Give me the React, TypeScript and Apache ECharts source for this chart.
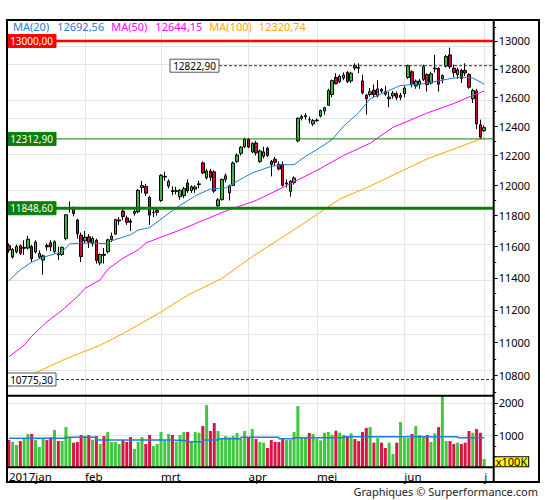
import React, { useEffect, useRef } from "react";
import * as echarts from "echarts";

// ---------- DATA ----------
const janDays = [4, 5, 6, 9, 10, 11, 12, 13, 16, 17, 18, 19, 20, 23, 24, 25, 26, 27, 30, 31];
const febDays = [1, 2, 3, 6, 7, 8, 9, 10, 13, 14, 15, 16, 17, 20, 21, 22, 23, 24, 27, 28];
const marDays = [1, 2, 3, 6, 7, 8, 9, 10, 13, 14, 15, 16, 17, 20, 21, 22, 23, 24, 27, 28, 29, 30, 31];
const aprDays = [3, 4, 5, 6, 7, 10, 11, 12, 13, 18, 19, 20, 21, 24, 25, 26, 27, 28];
const mayDays = [1, 2, 3, 4, 5, 8, 9, 10, 11, 12, 15, 16, 17, 18, 19, 22, 23, 24, 25, 26, 29, 30, 31];
const junDays = [1, 2, 6, 7, 8, 9, 12, 13, 14, 15, 16, 19, 20, 21, 22, 23, 26, 27, 28, 29, 30];
const julDays = [3];
const monthLabels = ["2017jan", "feb", "mrt", "apr", "mei", "jun", "j"];

const openP = [
  11605, 11532, 11567, 11604, 11588, 11590, 11600, 11565, 11532, 11513, 11606, 11624, 11567, 11552, 11549, 11651, 11845, 11840, 11772, 11673,
  11637, 11662, 11620, 11640, 11495, 11550, 11567, 11645, 11680, 11765, 11830, 11785, 11765, 11815, 11825, 11985, 11992, 11920, 11820, 11822,
  11900, 12055, 11995, 11965, 11960, 11925, 11932, 12015, 11965, 11975, 12005, 12150, 12050, 12095, 12090, 11865, 11905, 12040, 11950, 12000, 12160, 12215, 12260,
  12310, 12225, 12285, 12160, 12195, 12250, 12160, 12175, 12140, 12140, 12010, 11960, 12018, 12300, 12455, 12465, 12445, 12415,
  12438, 12470, 12505, 12545, 12620, 12740, 12710, 12735, 12775, 12715, 12825, 12810, 12715, 12615, 12620, 12650, 12610, 12655, 12640, 12590, 12610, 12625, 12600,
  12625, 12740, 12780, 12680, 12690, 12725, 12760, 12700, 12800, 12805, 12730, 12820, 12900, 12805, 12760, 12790, 12790, 12760, 12590, 12645, 12410,
  12370,
];
const highP = [
  11620, 11590, 11612, 11612, 11640, 11668, 11610, 11640, 11575, 11548, 11620, 11640, 11640, 11600, 11600, 11810, 11893, 11860, 11780, 11690,
  11700, 11680, 11665, 11650, 11555, 11590, 11650, 11690, 11780, 11790, 11845, 11800, 11780, 11840, 11975, 12030, 12010, 11930, 11850, 11850,
  12075, 12090, 12040, 11995, 11990, 11975, 11990, 12040, 12000, 12000, 12030, 12160, 12110, 12110, 12100, 11915, 12045, 12080, 12005, 12160, 12215, 12265, 12320,
  12320, 12290, 12300, 12240, 12260, 12260, 12170, 12190, 12160, 12160, 12040, 12035, 12060, 12460, 12480, 12490, 12465, 12450,
  12452, 12515, 12535, 12660, 12725, 12770, 12760, 12775, 12785, 12780, 12840, 12840, 12760, 12625, 12665, 12690, 12720, 12665, 12680, 12640, 12645, 12640, 12630,
  12680, 12830, 12790, 12725, 12730, 12830, 12770, 12780, 12900, 12810, 12760, 12900, 12952, 12830, 12810, 12800, 12840, 12770, 12660, 12660, 12445,
  12405,
];
const lowP = [
  11560, 11522, 11555, 11545, 11545, 11580, 11500, 11555, 11520, 11420, 11575, 11570, 11555, 11513, 11540, 11640, 11820, 11795, 11650, 11500,
  11620, 11590, 11600, 11490, 11480, 11490, 11555, 11630, 11675, 11740, 11770, 11740, 11700, 11800, 11815, 11950, 11930, 11740, 11790, 11800,
  11890, 12030, 11980, 11935, 11940, 11905, 11915, 11950, 11950, 11950, 11980, 12075, 12040, 12030, 11950, 11855, 11900, 12020, 11900, 11995, 12150, 12200, 12250,
  12250, 12215, 12200, 12150, 12180, 12190, 12060, 12130, 12100, 11990, 11985, 11925, 12005, 12290, 12440, 12445, 12420, 12400,
  12430, 12460, 12480, 12540, 12600, 12690, 12700, 12720, 12700, 12700, 12790, 12770, 12620, 12480, 12605, 12600, 12600, 12630, 12610, 12530, 12590, 12580, 12580,
  12600, 12730, 12670, 12660, 12660, 12715, 12640, 12690, 12775, 12640, 12700, 12810, 12800, 12740, 12730, 12700, 12750, 12660, 12560, 12380, 12313,
  12360,
];
const closeP = [
  11577, 11580, 11600, 11556, 11594, 11647, 11521, 11629, 11555, 11540, 11598, 11597, 11630, 11546, 11595, 11806, 11849, 11814, 11682, 11535,
  11660, 11628, 11651, 11510, 11549, 11543, 11643, 11667, 11774, 11772, 11794, 11757, 11757, 11828, 11967, 11998, 11948, 11804, 11823, 11834,
  12067, 12060, 12027, 11958, 11966, 11967, 11978, 11963, 11990, 11989, 12010, 12083, 12095, 12053, 11962, 11904, 12040, 12064, 11996, 12149, 12203, 12256, 12313,
  12257, 12282, 12218, 12231, 12225, 12200, 12139, 12155, 12109, 12000, 12016, 12027, 12049, 12455, 12467, 12473, 12444, 12438,
  12442, 12508, 12528, 12648, 12717, 12695, 12749, 12757, 12711, 12770, 12807, 12805, 12632, 12590, 12639, 12619, 12659, 12643, 12622, 12602, 12629, 12599, 12615,
  12665, 12823, 12690, 12714, 12715, 12816, 12690, 12765, 12806, 12692, 12753, 12889, 12815, 12774, 12794, 12733, 12771, 12671, 12647, 12416, 12325,
  12390,
];
// volume in units of 100K
const volume = [
  845, 784, 691, 814, 887, 1031, 1031, 845, 629, 887, 845, 928, 1155, 814, 814, 1247, 918, 763, 784, 1000,
  969, 1000, 856, 969, 722, 969, 1093, 784, 784, 722, 845, 784, 938, 567, 784, 938, 722, 1000, 660, 722,
  1093, 845, 1031, 1000, 794, 1000, 1093, 1093, 794, 1093, 1072, 1278, 1928, 1124, 1371, 1124, 876, 969, 928, 969, 1062, 876, 1124,
  928, 1186, 876, 784, 763, 598, 845, 784, 784, 876, 845, 845, 1093, 1897, 928, 928, 1062, 1031,
  887, 835, 1072, 1093, 1010, 1134, 1072, 1000, 948, 1052, 876, 814, 1093, 1216, 1247, 763, 907, 763, 598, 763, 412, 763, 1402,
  907, 907, 1031, 1278, 1000, 948, 1000, 784, 1052, 1247, 2216, 814, 814, 722, 763, 722, 763, 1124, 1072, 1186, 1072,
  258,
];
// moving averages: [dayIndex, value]
const ma20Pts = [
  [0, 11382], [3, 11451], [6, 11500], [9, 11530], [11, 11545], [14, 11567], [16, 11617], [19, 11622], [22, 11622], [26, 11617],
  [27, 11637], [32, 11676], [34, 11706], [37, 11722], [44, 11851], [49, 11930], [53, 11976], [57, 11983], [60, 12027], [64, 12083],
  [69, 12127], [72, 12138], [75, 12138], [78, 12194], [81, 12240], [85, 12308], [88, 12400], [92, 12493], [95, 12590], [103, 12683],
  [109, 12695], [116, 12731], [119, 12743], [122, 12735], [125, 12692.56],
];
const ma50Pts = [
  [0, 10912], [4, 10982], [6, 11037], [10, 11126], [14, 11198], [18, 11281], [20, 11334], [24, 11387], [26, 11455], [30, 11525],
  [34, 11578], [36, 11622], [40, 11660], [45, 11706], [50, 11758], [57, 11830], [65, 11900], [72, 11985], [81, 12100], [88, 12200],
  [95, 12283], [101, 12392], [110, 12491], [117, 12557], [122, 12613], [125, 12644.15],
];
const ma100Pts = [
  [0, 10732], [8, 10826], [15, 10900], [24, 10982], [30, 11053], [40, 11186], [47, 11291], [56, 11396], [64, 11535], [77, 11740],
  [87, 11909], [95, 11995], [110, 12177], [125, 12320.74],
];
const volMaSteps = [
  [0, 897], [15, 928], [23, 845], [43, 825], [47, 794], [51, 845], [55, 887], [61, 928], [71, 887], [75, 918], [88, 948], [118, 918], [125, 918],
];
const levelValues = [13000, 12822.9, 12312.9, 11848.6, 10775.3];
const priceTicks = [10800, 11000, 11200, 11400, 11600, 11800, 12000, 12200, 12400, 12600, 12800, 13000];
const priceMinorTicks = [10700, 10900, 11100, 11300, 11500, 11700, 11900, 12100, 12300, 12500, 12700, 12900, 13100];
const priceRange = [10679, 13152];
const volTicks = [1000, 2000];
const volMinorTicks = [333, 667, 1333, 1667];
const volRange = [0, 2220];

// ---------- STYLE / LAYOUT ----------
const FONT = '"Noto Sans", "DejaVu Sans", sans-serif';
const BLUE = "#1c7fd8";
const MAGENTA = "#ff00ff";
const ORANGE = "#ffa500";
const C_UP = "#39b839";
const C_DN = "#d6003c";
const V_UP = "#3ec83e";
const V_DN = "#dc1446";
const GRIDC = "#e4e4e4";
const LX = 7;
const RX = 493.7;
const TOPY = 20;
const MIDY = 395.7;
const VOLY = 467.3;
const FRX = 539;
const FRY = 482;
const EXTRA_SLOTS = 2;
const levelStyles = [
  { color: "#ff0000", width: 2.5, dash: null, bg: "#ff0000", fg: "#ffffff", border: "#ff0000", boxOffset: 0, fromBox: false },
  { color: "#333333", width: 1, dash: [3, 2], bg: "#ffffff", fg: "#000000", border: "#555555", boxOffset: 163, fromBox: true },
  { color: "#087f08", width: 1, dash: null, bg: "#087f08", fg: "#ffffff", border: "#087f08", boxOffset: 0, fromBox: false },
  { color: "#087f08", width: 3, dash: null, bg: "#087f08", fg: "#ffffff", border: "#087f08", boxOffset: 0, fromBox: false },
  { color: "#333333", width: 1, dash: [3, 2], bg: "#ffffff", fg: "#000000", border: "#555555", boxOffset: 0, fromBox: true },
];

const LN = Math.log;
const fmt2 = (v: number) => v.toFixed(2).replace(".", ",");

export default function App() {
  const ref = useRef<HTMLDivElement>(null);

  useEffect(() => {
    document.body.style.margin = "0";
    if (!ref.current) return;
    const chart = echarts.init(ref.current, undefined, { renderer: "svg" });

    const monthsList = [janDays, febDays, marDays, aprDays, mayDays, junDays, julDays];
    const cats: string[] = [];
    const monthStarts: number[] = [];
    monthsList.forEach((days, m) => {
      monthStarts.push(cats.length);
      days.forEach((d) => cats.push(`2017-${m + 1}-${d}`));
    });
    for (let i = 0; i < EXTRA_SLOTS; i++) cats.push(`pad${i}`);

    const candleData = openP.map((o, i) => [LN(o), LN(closeP[i]), LN(lowP[i]), LN(highP[i])]);
    const volData = volume.map((v, i) => ({
      value: v,
      itemStyle: { color: closeP[i] >= openP[i] ? V_UP : V_DN },
    }));
    const toLn = (pts: number[][]) => pts.map(([i, v]) => [i, LN(v)]);
    const last = (pts: number[][]) => pts[pts.length - 1][1];

    const axisFont = { fontFamily: FONT, fontSize: 11, color: "#000" };

    const option: any = {
      animation: false,
      backgroundColor: "#ffffff",
      title: {
        left: 13,
        top: 21,
        padding: 0,
        text:
          `{a|MA(20)}{av|${fmt2(last(ma20Pts))}}` +
          `{b|MA(50)}{bv|${fmt2(last(ma50Pts))}}` +
          `{c|MA(100)}{cv|${fmt2(last(ma100Pts))}}`,
        textStyle: {
          fontFamily: FONT,
          fontSize: 11,
          fontWeight: "normal",
          rich: {
            a: { color: BLUE, fontFamily: FONT, fontSize: 11, padding: [0, 8, 0, 0] },
            av: { color: BLUE, fontFamily: FONT, fontSize: 11, padding: [0, 7, 0, 0] },
            b: { color: MAGENTA, fontFamily: FONT, fontSize: 11, padding: [0, 8, 0, 0] },
            bv: { color: MAGENTA, fontFamily: FONT, fontSize: 11, padding: [0, 7, 0, 0] },
            c: { color: ORANGE, fontFamily: FONT, fontSize: 11, padding: [0, 7, 0, 0] },
            cv: { color: ORANGE, fontFamily: FONT, fontSize: 11 },
          },
        },
      },
      grid: [
        { left: LX, top: TOPY, width: RX - LX, height: MIDY - TOPY },
        { left: LX, top: MIDY, width: RX - LX, height: VOLY - MIDY },
      ],
      xAxis: [
        {
          type: "category", gridIndex: 0, data: cats, boundaryGap: true,
          axisLine: { show: false }, axisTick: { show: false }, axisLabel: { show: false }, splitLine: { show: false },
        },
        {
          type: "category", gridIndex: 1, data: cats, boundaryGap: true,
          axisLine: { show: false }, axisTick: { show: false }, splitLine: { show: false },
          axisLabel: {
            ...axisFont,
            fontSize: 11.5,
            align: "left",
            margin: 3,
            interval: (idx: number) => monthStarts.includes(idx),
            formatter: (_v: string, idx: number) => {
              const k = monthStarts.indexOf(idx);
              return k >= 0 ? monthLabels[k] : "";
            },
          },
        },
      ],
      yAxis: [
        {
          type: "value", gridIndex: 0, position: "right", min: LN(priceRange[0]), max: LN(priceRange[1]),
          axisLine: { show: false }, splitLine: { show: false },
          axisTick: { show: true, customValues: priceTicks.map(LN), length: 4, lineStyle: { color: "#000" } },
          axisLabel: {
            ...axisFont, margin: 5, customValues: priceTicks.map(LN),
            formatter: (v: number) => String(Math.round(Math.exp(v))),
          },
        },
        {
          type: "value", gridIndex: 0, position: "right", min: LN(priceRange[0]), max: LN(priceRange[1]),
          axisLine: { show: false }, splitLine: { show: false }, axisLabel: { show: false },
          axisTick: { show: true, customValues: priceMinorTicks.map(LN), length: 2.5, lineStyle: { color: "#000" } },
        },
        {
          type: "value", gridIndex: 1, position: "right", min: volRange[0], max: volRange[1],
          axisLine: { show: false }, splitLine: { show: false },
          axisTick: { show: true, customValues: volTicks, length: 4, lineStyle: { color: "#000" } },
          axisLabel: { ...axisFont, margin: 5, customValues: volTicks, formatter: (v: number) => String(Math.round(v)) },
        },
        {
          type: "value", gridIndex: 1, position: "right", min: volRange[0], max: volRange[1],
          axisLine: { show: false }, splitLine: { show: false }, axisLabel: { show: false },
          axisTick: { show: true, customValues: volMinorTicks, length: 2.5, lineStyle: { color: "#000" } },
        },
      ],
      series: [
        {
          name: "gridMain", type: "line", xAxisIndex: 0, yAxisIndex: 0, data: [], z: 1, silent: true,
          markLine: {
            z: 1, silent: true, symbol: ["none", "none"], label: { show: false },
            lineStyle: { color: GRIDC, width: 1, type: "solid" },
            data: [
              ...priceTicks.map((t) => ({ yAxis: LN(t) })),
              ...monthStarts.slice(1).map((i) => ({ xAxis: i })),
            ],
          },
        },
        {
          name: "gridVol", type: "line", xAxisIndex: 1, yAxisIndex: 2, data: [], z: 1, silent: true,
          markLine: {
            z: 1, silent: true, symbol: ["none", "none"], label: { show: false },
            lineStyle: { color: GRIDC, width: 1, type: "solid" },
            data: [
              ...volTicks.map((t) => ({ yAxis: t })),
              ...monthStarts.slice(1).map((i) => ({ xAxis: i })),
            ],
          },
        },
        {
          name: "price", type: "candlestick", xAxisIndex: 0, yAxisIndex: 0, data: candleData, barWidth: 3, z: 2,
          itemStyle: { color: C_UP, color0: C_DN, borderColor: "#000", borderColor0: "#000", borderWidth: 1 },
        },
        {
          name: "MA(100)", type: "line", xAxisIndex: 0, yAxisIndex: 0, data: toLn(ma100Pts), symbol: "none", z: 3,
          lineStyle: { color: ORANGE, width: 1 },
        },
        {
          name: "MA(50)", type: "line", xAxisIndex: 0, yAxisIndex: 0, data: toLn(ma50Pts), symbol: "none", z: 3,
          lineStyle: { color: MAGENTA, width: 1 },
        },
        {
          name: "MA(20)", type: "line", xAxisIndex: 0, yAxisIndex: 0, data: toLn(ma20Pts), symbol: "none", z: 3,
          lineStyle: { color: BLUE, width: 1 },
        },
        {
          name: "levels", type: "custom", xAxisIndex: 0, yAxisIndex: 0, z: 6, silent: true,
          data: levelValues.map((v, i) => [0, LN(v), i]),
          renderItem: (params: any, api: any) => {
            const i = api.value(2);
            const st = levelStyles[i];
            const y = api.coord([0, api.value(1)])[1];
            const cs = params.coordSys;
            const boxW = 49;
            const boxH = 13;
            const boxX = cs.x + st.boxOffset;
            return {
              type: "group",
              children: [
                {
                  type: "line",
                  shape: { x1: st.fromBox ? boxX + boxW : cs.x, y1: y, x2: cs.x + cs.width, y2: y },
                  style: { stroke: st.color, lineWidth: st.width, lineDash: st.dash || undefined },
                },
                {
                  type: "rect",
                  shape: { x: boxX, y: y - boxH / 2, width: boxW, height: boxH },
                  style: { fill: st.bg, stroke: st.border, lineWidth: 1 },
                },
                {
                  type: "text",
                  style: {
                    x: boxX + boxW / 2, y, text: fmt2(levelValues[i]), fill: st.fg,
                    font: `10px ${FONT}`, align: "center", verticalAlign: "middle",
                  },
                },
              ],
            };
          },
        },
        {
          name: "volume", type: "bar", xAxisIndex: 1, yAxisIndex: 2, data: volData, barWidth: 3, z: 2,
        },
        {
          name: "volMA", type: "line", xAxisIndex: 1, yAxisIndex: 2, data: volMaSteps, step: "end", symbol: "none", z: 3,
          lineStyle: { color: BLUE, width: 1.5 },
        },
      ],
      graphic: [
        {
          type: "rect", z: 100, silent: true,
          shape: { x: LX, y: TOPY, width: FRX - LX, height: FRY - TOPY },
          style: { fill: "none", stroke: "#000", lineWidth: 2 },
        },
        { type: "line", z: 100, silent: true, shape: { x1: RX, y1: TOPY, x2: RX, y2: FRY }, style: { stroke: "#000", lineWidth: 2 } },
        { type: "line", z: 100, silent: true, shape: { x1: LX, y1: MIDY, x2: RX, y2: MIDY }, style: { stroke: "#000", lineWidth: 2 } },
        { type: "line", z: 100, silent: true, shape: { x1: LX, y1: VOLY, x2: RX, y2: VOLY }, style: { stroke: "#000", lineWidth: 2 } },
        {
          type: "text", z: 101, silent: true, x: RX + 1, y: VOLY - 10,
          style: {
            text: "x100K", fill: "#000", font: `11px ${FONT}`, backgroundColor: "#ffff00",
            borderColor: "#000", borderWidth: 1, padding: [0, 1, 0, 1], lineHeight: 9,
          },
        },
        {
          type: "text", z: 101, silent: true, x: 538, y: 491,
          style: {
            text: "Graphiques © Surperformance.com", fill: "#222", font: `11px ${FONT}`,
            align: "right", verticalAlign: "middle",
          },
        },
      ],
    };

    chart.setOption(option);
    return () => chart.dispose();
  }, []);

  return <div ref={ref} style={{ width: 545, height: 500, background: "#fff" }} />;
}
